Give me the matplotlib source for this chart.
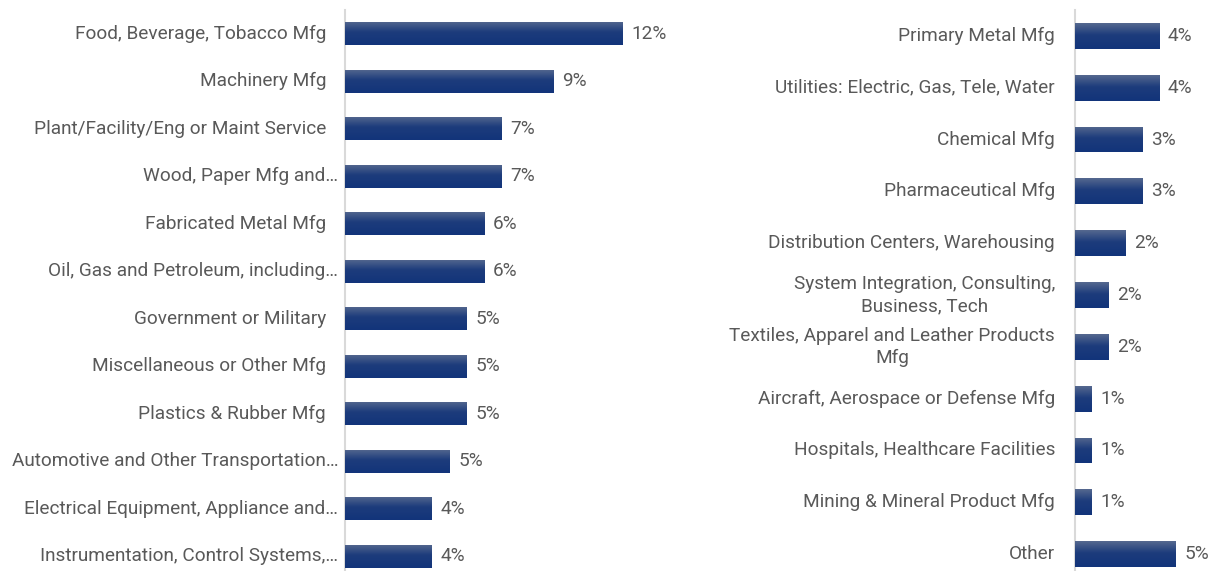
import matplotlib
matplotlib.use("Agg")
import matplotlib.pyplot as plt
import numpy as np
from matplotlib.colors import LinearSegmentedColormap
from matplotlib.transforms import blended_transform_factory, offset_copy

plt.rcParams['font.family'] = ['Roboto', 'DejaVu Sans']

left_categories = [
    "Food, Beverage, Tobacco Mfg",
    "Machinery Mfg",
    "Plant/Facility/Eng or Maint Service",
    "Wood, Paper Mfg and…",
    "Fabricated Metal Mfg",
    "Oil, Gas and Petroleum, including…",
    "Government or Military",
    "Miscellaneous or Other Mfg",
    "Plastics & Rubber Mfg",
    "Automotive and Other Transportation…",
    "Electrical Equipment, Appliance and…",
    "Instrumentation, Control Systems,…",
]
left_values = [12.03, 9.02, 6.77, 6.77, 6.02, 6.02, 5.26, 5.26, 5.26, 4.51, 3.76, 3.76]

right_categories = [
    "Primary Metal Mfg",
    "Utilities: Electric, Gas, Tele, Water",
    "Chemical Mfg",
    "Pharmaceutical Mfg",
    "Distribution Centers, Warehousing",
    "System Integration, Consulting,\nBusiness, Tech",
    "Textiles, Apparel and Leather Products\nMfg",
    "Aircraft, Aerospace or Defense Mfg",
    "Hospitals, Healthcare Facilities",
    "Mining & Mineral Product Mfg",
    "Other",
]
right_values = [3.76, 3.76, 3.01, 3.01, 2.26, 1.50, 1.50, 0.75, 0.75, 0.75, 4.51]

W, H = 1215, 571
fig = plt.figure(figsize=(W / 100, H / 100), dpi=100)

grad_cmap = LinearSegmentedColormap.from_list(
    "bargrad", [(0.0, "#55688f"), (0.45, "#1d3c7c"), (1.0, "#12347a")])
text_color = "#595959"
fs = 13.7


def px_axes(x0, x1, y0, y1):
    return fig.add_axes([x0 / W, (H - y1) / H, (x1 - x0) / W, (y1 - y0) / H])


def draw_panel(ax, cats, vals, xmax, height, label_pad_plain, label_pad_ell):
    n = len(cats)
    y = np.arange(n)
    bars = ax.barh(y, vals, height=height, color="#1a3a7b", zorder=2)
    grad = np.linspace(0, 1, 64).reshape(-1, 1)
    for b in bars:
        x0, y0, w, h = b.get_x(), b.get_y(), b.get_width(), b.get_height()
        b.set_facecolor("none")
        im = ax.imshow(grad, cmap=grad_cmap, aspect="auto",
                       extent=(x0, x0 + w, y0 + h, y0), zorder=3,
                       interpolation="bilinear")
        im.set_clip_path(b)
    ax.set_ylim(n - 0.5, -0.5)
    ax.set_xlim(0, xmax)
    for sp in ["top", "right", "bottom"]:
        ax.spines[sp].set_visible(False)
    ax.spines["left"].set_color("#d9d9d9")
    ax.spines["left"].set_linewidth(1.5)
    ax.set_xticks([])
    ax.set_yticks([])
    trans = blended_transform_factory(ax.transAxes, ax.transData)
    for yi, c in zip(y, cats):
        pad = label_pad_ell if c.endswith("…") else label_pad_plain
        t = offset_copy(trans, fig=fig, x=-pad, y=0, units="dots")
        ax.text(0, yi, c, transform=t, ha="right", va="center",
                multialignment="center", fontsize=fs, color=text_color,
                linespacing=1.32)
    for yi, v in zip(y, vals):
        t = offset_copy(ax.transData, fig=fig, x=9, y=0, units="dots")
        ax.text(v, yi, f"{v:.0f}%", transform=t, ha="left", va="center",
                fontsize=fs, color=text_color)


axL = px_axes(345, 700, 10, 580)
draw_panel(axL, left_categories, left_values, (700 - 345) / 23.1, 0.49, 19, 7)

axR = px_axes(1075, 1215, 10, 580)
draw_panel(axR, right_categories, right_values, (1215 - 1075) / 22.35, 0.5, 20, 20)

fig.savefig("out.png", dpi=100)
